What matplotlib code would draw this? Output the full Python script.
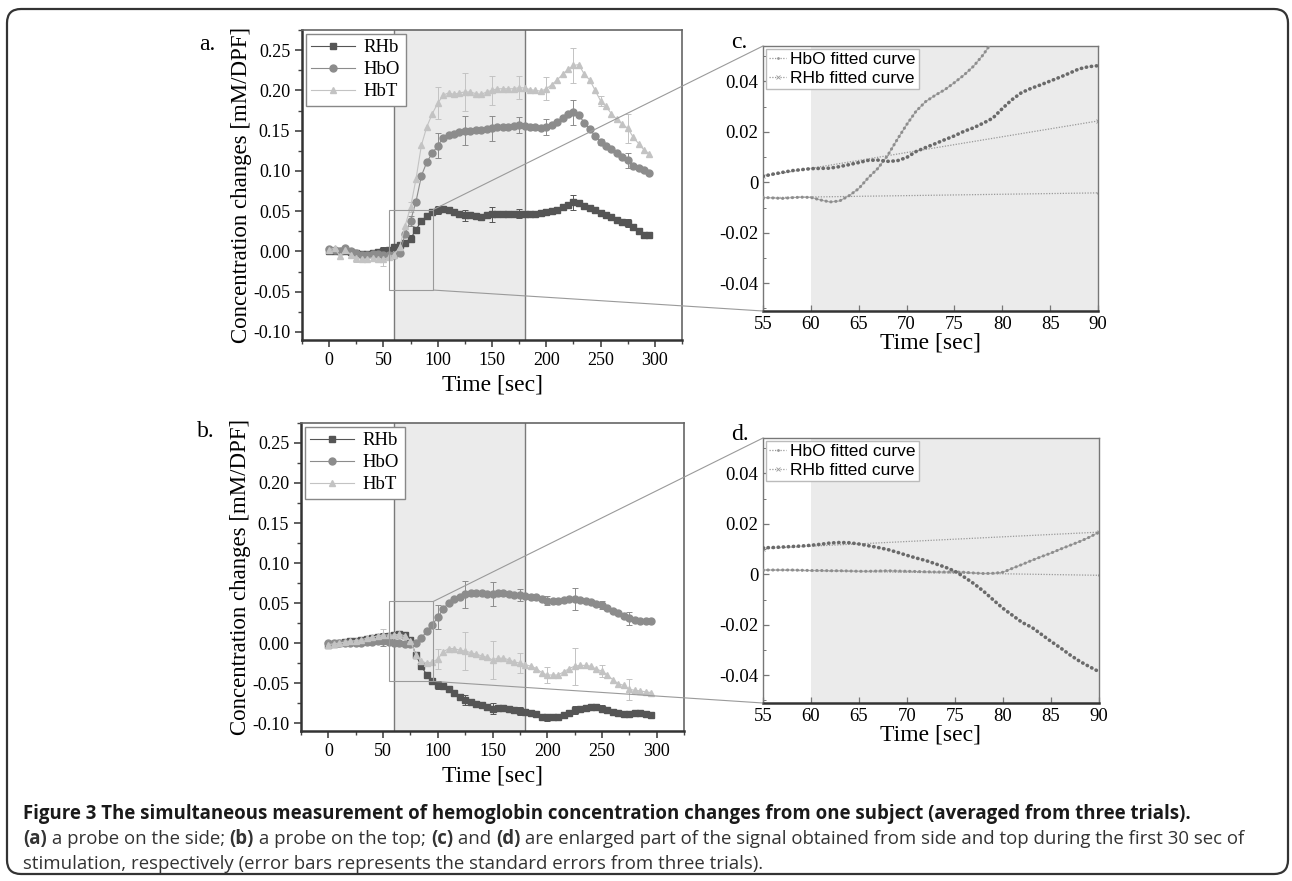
import matplotlib
matplotlib.use("Agg")
import matplotlib.pyplot as plt
from matplotlib.patches import ConnectionPatch, Rectangle, FancyBboxPatch
from matplotlib.ticker import MultipleLocator, FuncFormatter

plt.rcParams['font.family'] = ['Liberation Serif', 'DejaVu Serif']
plt.rcParams['axes.unicode_minus'] = False

# ---- data, panels a and b (5 s steps) ----
t = list(range(0, 300, 5))
t_err = list(range(0, 300, 25))

rhb_a = [0.0, 0.0, 0.0, 0.0, -0.001, -0.002, -0.003, -0.003, -0.002, -0.001,
         0.0, 0.002, 0.005, 0.008, 0.011, 0.016, 0.027, 0.038, 0.044, 0.049,
         0.052, 0.053, 0.051, 0.049, 0.047, 0.045, 0.045, 0.044, 0.043, 0.045,
         0.046, 0.047, 0.046, 0.046, 0.047, 0.047, 0.047, 0.046, 0.047, 0.048,
         0.049, 0.050, 0.052, 0.055, 0.058, 0.061, 0.060, 0.057, 0.054, 0.051,
         0.048, 0.045, 0.043, 0.039, 0.037, 0.035, 0.030, 0.025, 0.021, 0.021]
hbo_a = [0.003, 0.002, 0.0, 0.004, 0.001, -0.002, -0.005, -0.004, -0.003, -0.003,
         -0.004, -0.005, -0.005, -0.002, 0.022, 0.038, 0.062, 0.094, 0.111, 0.122,
         0.131, 0.141, 0.144, 0.146, 0.148, 0.150, 0.150, 0.151, 0.151, 0.152,
         0.153, 0.154, 0.155, 0.155, 0.156, 0.157, 0.156, 0.155, 0.154, 0.153,
         0.154, 0.157, 0.161, 0.166, 0.171, 0.173, 0.169, 0.160, 0.152, 0.143,
         0.136, 0.131, 0.127, 0.122, 0.117, 0.113, 0.106, 0.103, 0.101, 0.098]
hbt_a = [0.002, 0.004, -0.006, 0.002, -0.004, -0.008, -0.010, -0.009, -0.008, -0.009,
         -0.010, -0.007, -0.004, 0.006, 0.032, 0.055, 0.090, 0.132, 0.155, 0.171,
         0.184, 0.194, 0.197, 0.195, 0.197, 0.198, 0.198, 0.196, 0.195, 0.198,
         0.200, 0.202, 0.202, 0.202, 0.202, 0.2035, 0.203, 0.201, 0.200, 0.199,
         0.202, 0.207, 0.213, 0.220, 0.226, 0.231, 0.232, 0.220, 0.213, 0.200,
         0.187, 0.180, 0.171, 0.164, 0.158, 0.153, 0.142, 0.134, 0.126, 0.121]
rhb_a_err = [0.002, 0.003, 0.006, 0.004, 0.005, 0.007, 0.009, 0.006, 0.004, 0.009, 0.004, 0.005]
hbo_a_err = [0.003, 0.004, 0.006, 0.006, 0.0155, 0.018, 0.0155, 0.010, 0.010, 0.0155, 0.004, 0.009]
hbt_a_err = [0.003, 0.005, 0.008, 0.006, 0.020, 0.023, 0.018, 0.0145, 0.0145, 0.022, 0.006, 0.018]

rhb_b = [-0.002, -0.001, 0.0, 0.001, 0.002, 0.003, 0.004, 0.005, 0.006, 0.007,
         0.008, 0.009, 0.010, 0.011, 0.010, 0.004, -0.015, -0.029, -0.040, -0.047,
         -0.052, -0.054, -0.057, -0.062, -0.067, -0.071, -0.074, -0.076, -0.078, -0.080,
         -0.082, -0.081, -0.081, -0.082, -0.084, -0.085, -0.086, -0.087, -0.089, -0.092,
         -0.093, -0.093, -0.093, -0.090, -0.087, -0.084, -0.082, -0.081, -0.080, -0.080,
         -0.082, -0.084, -0.086, -0.088, -0.089, -0.089, -0.088, -0.088, -0.089, -0.090]
hbo_b = [0.0, 0.0, 0.0, 0.0, 0.0, 0.0, 0.0, 0.001, 0.001, 0.002,
         0.002, 0.001, 0.0, 0.0, -0.001, -0.001, 0.0, 0.006, 0.015, 0.023,
         0.032, 0.043, 0.050, 0.055, 0.058, 0.061, 0.062, 0.062, 0.062, 0.061,
         0.061, 0.062, 0.062, 0.061, 0.060, 0.060, 0.059, 0.058, 0.057, 0.055,
         0.053, 0.053, 0.053, 0.054, 0.055, 0.055, 0.054, 0.053, 0.051, 0.049,
         0.047, 0.044, 0.040, 0.037, 0.034, 0.031, 0.029, 0.028, 0.028, 0.028]
hbt_b = [-0.002, -0.001, 0.0, 0.001, 0.002, 0.003, 0.004, 0.006, 0.007, 0.009,
         0.010, 0.010, 0.010, 0.011, 0.009, 0.003, -0.015, -0.023, -0.025, -0.024,
         -0.020, -0.011, -0.007, -0.007, -0.009, -0.010, -0.012, -0.014, -0.016, -0.018,
         -0.021, -0.019, -0.019, -0.021, -0.024, -0.025, -0.027, -0.029, -0.032, -0.037,
         -0.040, -0.040, -0.040, -0.036, -0.032, -0.029, -0.028, -0.028, -0.029, -0.033,
         -0.035, -0.040, -0.046, -0.051, -0.053, -0.058, -0.059, -0.060, -0.061, -0.062]
rhb_b_err = [0.002, 0.002, 0.005, 0.004, 0.005, 0.006, 0.007, 0.005, 0.004, 0.005, 0.004, 0.004]
hbo_b_err = [0.002, 0.003, 0.006, 0.004, 0.015, 0.017, 0.015, 0.008, 0.006, 0.0136, 0.005, 0.008]
hbt_b_err = [0.002, 0.003, 0.008, 0.004, 0.012, 0.024, 0.024, 0.012, 0.010, 0.023, 0.008, 0.013]

# ---- data, zoomed panels c and d (1 s steps) ----
tz = list(range(55, 91))
rhb_c = [0.0024, 0.0032, 0.0039, 0.0046, 0.0050, 0.0054, 0.0055, 0.0056, 0.0062, 0.0070,
         0.0078, 0.0087, 0.0088, 0.0083, 0.0085, 0.0098, 0.0122, 0.0138, 0.0153, 0.0169,
         0.0184, 0.0202, 0.0216, 0.0234, 0.0254, 0.0292, 0.0327, 0.0355, 0.0372, 0.0386,
         0.0401, 0.0416, 0.0432, 0.0449, 0.0458, 0.0462]
tz_hbo_c = list(range(55, 81))
hbo_c = [-0.0060, -0.0062, -0.0064, -0.0061, -0.0059, -0.0060, -0.0070, -0.0078, -0.0074, -0.0053,
         -0.0025, 0.0018, 0.0055, 0.0105, 0.0168, 0.0228, 0.0282, 0.0320, 0.0345, 0.0367,
         0.0395, 0.0425, 0.0460, 0.0505, 0.0560, 0.0610]
rhb_d = [0.0105, 0.0106, 0.0108, 0.0110, 0.0112, 0.0115, 0.0119, 0.0124, 0.0126, 0.0125,
         0.0120, 0.0113, 0.0106, 0.0098, 0.0087, 0.0075, 0.0064, 0.0054, 0.0041, 0.0028,
         0.0012, -0.0012, -0.0038, -0.0068, -0.0102, -0.0135, -0.0163, -0.0191, -0.0210, -0.0238,
         -0.0266, -0.0292, -0.0320, -0.0345, -0.0366, -0.0386]
hbo_d = [0.0017, 0.0017, 0.0017, 0.0017, 0.0016, 0.0015, 0.0015, 0.0014, 0.0014, 0.0013,
         0.0012, 0.0012, 0.0013, 0.0014, 0.0013, 0.0012, 0.0011, 0.0010, 0.0009, 0.0009,
         0.0009, 0.0008, 0.0005, 0.0003, 0.0004, 0.0008, 0.0024, 0.0039, 0.0055, 0.0070,
         0.0084, 0.0100, 0.0115, 0.0130, 0.0147, 0.0167]
t_fit = [55, 90]
hbo_fit_c = [-0.0061, -0.0042]
rhb_fit_c = [0.0024, 0.0243]
hbo_fit_d = [0.0017, -0.0004]
rhb_fit_d = [0.0102, 0.0167]

C_RHB, C_HBO, C_HBT = '#555555', '#8c8c8c', '#c3c3c3'
SHADE = '#ebebeb'

W, H = 1292, 881
fig = plt.figure(figsize=(W / 100, H / 100), dpi=100)


def big_panel(rect, rhb, hbo, hbt, e_rhb, e_hbo, e_hbt, letter, ly):
    ax = fig.add_axes(rect)
    ax.axvspan(60, 180, color=SHADE, zorder=0, lw=0)
    ax.axvline(60, color='#7a7a7a', lw=1.0, zorder=1)
    ax.axvline(180, color='#7a7a7a', lw=1.0, zorder=1)
    series = [(rhb, e_rhb, C_RHB, 's', 4.2, 'RHb'),
              (hbo, e_hbo, C_HBO, 'o', 5.0, 'HbO'),
              (hbt, e_hbt, C_HBT, '^', 5.0, 'HbT')]
    for vals, err, col, mk, ms, lab in series:
        ax.plot(t, vals, color=col, marker=mk, ms=ms, lw=0.8, mec=col, label=lab, zorder=3)
        ax.errorbar(t_err, vals[::5], yerr=err, fmt='none', ecolor=col, elinewidth=0.7,
                    capsize=2.5, capthick=0.7, zorder=2)
    ax.set_xlim(-25, 325)
    ax.set_ylim(-0.11, 0.275)
    ax.xaxis.set_minor_locator(MultipleLocator(25))
    ax.yaxis.set_major_locator(MultipleLocator(0.05))
    ax.yaxis.set_minor_locator(MultipleLocator(0.025))
    ax.yaxis.set_major_formatter(FuncFormatter(lambda v, p: '%.2f' % v))
    ax.set_xticks([0, 50, 100, 150, 200, 250, 300])
    ax.tick_params(which='both', direction='out', labelsize=13, color='#444')
    ax.tick_params(which='major', length=5, width=1.2)
    ax.tick_params(which='minor', length=3, width=1.0)
    for s in ax.spines.values():
        s.set_color('#666')
        s.set_linewidth(1.2)
    ax.spines['left'].set_color('#333')
    ax.spines['left'].set_linewidth(1.8)
    ax.spines['bottom'].set_color('#333')
    ax.spines['bottom'].set_linewidth(1.8)
    ax.set_xlabel('Time [sec]', fontsize=17, labelpad=4)
    ax.set_ylabel('Concentration changes [mM/DPF]', fontsize=16.5, labelpad=1)
    leg = ax.legend(loc='upper left', fontsize=13.5, handlelength=2.3, borderaxespad=0.2,
                    fancybox=False, edgecolor='#888', framealpha=1, labelspacing=0.25,
                    handletextpad=0.5, borderpad=0.3)
    leg.get_frame().set_linewidth(1.0)
    ax.add_patch(Rectangle((55, -0.048), 41, 0.1, fill=False, ec='#9a9a9a', lw=0.8, zorder=4))
    ax.text(-0.272, ly, letter, transform=ax.transAxes, fontsize=17, ha='left', va='center')
    return ax


def zoom_panel(rect, rhb, hbo_t, hbo, hbo_fit, rhb_fit, letter):
    ax = fig.add_axes(rect)
    ax.axvspan(60, 90, color=SHADE, zorder=0, lw=0)
    ax.plot(t_fit, hbo_fit, color='#999999', lw=0.9, ls=(0, (1, 1.2)), marker='.', ms=2,
            label='HbO fitted curve', zorder=2)
    ax.plot(t_fit, rhb_fit, color='#999999', lw=0.9, ls=(0, (1, 1.2)), marker='x', ms=3,
            mew=0.6, label='RHb fitted curve', zorder=2)
    ax.plot(hbo_t, hbo, color='#aaaaaa', lw=0.8, zorder=3)
    ax.plot(hbo_t, hbo, color='#8e8e8e', lw=2.2, ls=(0, (0.1, 1.5)), dash_capstyle='round', zorder=3)
    ax.plot(tz, rhb, color='#6a6a6a', lw=2.6, ls=(0, (0.1, 1.3)), dash_capstyle='round', zorder=4)
    ax.set_xlim(55, 90)
    ax.set_ylim(-0.051, 0.054)
    ax.set_xticks([55, 60, 65, 70, 75, 80, 85, 90])
    ax.set_yticks([-0.04, -0.02, 0, 0.02, 0.04])
    ax.set_yticklabels(['-0.04', '-0.02', '0', '0.02', '0.04'])
    ax.yaxis.set_minor_locator(MultipleLocator(0.01))
    ax.tick_params(which='both', direction='in', labelsize=13.5, color='#777')
    ax.tick_params(which='major', length=4, width=0.9)
    ax.tick_params(which='minor', length=2.5, width=0.7)
    for s in ax.spines.values():
        s.set_color('#777')
        s.set_linewidth(1.0)
    ax.spines['bottom'].set_color('#333')
    ax.spines['bottom'].set_linewidth(1.8)
    ax.set_xlabel('Time [sec]', fontsize=17, labelpad=0)
    ax.legend(loc='upper left', prop={'family': ['Liberation Sans', 'DejaVu Sans'], 'size': 12.5},
              handlelength=1.0, borderaxespad=0.15, fancybox=False, edgecolor='#bbb',
              framealpha=1, labelspacing=0.2, handletextpad=0.2, borderpad=0.2)
    ax.text(-0.095, 1.012, letter, transform=ax.transAxes, fontsize=17, ha='left', va='center')
    return ax


ax_a = big_panel([302 / W, 1 - 340 / H, 380 / W, 310 / H], rhb_a, hbo_a, hbt_a,
                 rhb_a_err, hbo_a_err, hbt_a_err, 'a.', 0.952)
ax_b = big_panel([301 / W, 1 - 731 / H, 383 / W, 308 / H], rhb_b, hbo_b, hbt_b,
                 rhb_b_err, hbo_b_err, hbt_b_err, 'b.', 0.971)
ax_c = zoom_panel([763 / W, 1 - 311 / H, 335 / W, 265 / H], rhb_c, tz_hbo_c, hbo_c,
                  hbo_fit_c, rhb_fit_c, 'c.')
ax_d = zoom_panel([763 / W, 1 - 703 / H, 336 / W, 265 / H], rhb_d, tz, hbo_d,
                  hbo_fit_d, rhb_fit_d, 'd.')

# connector lines from the small boxes to the zoomed panels
for big, small in [(ax_a, ax_c), (ax_b, ax_d)]:
    for yb, ys in [(0.052, 1.0), (-0.048, 0.0)]:
        con = ConnectionPatch(xyA=(96, yb), coordsA=big.transData, xyB=(0, ys),
                              coordsB=small.transAxes, color='#9a9a9a', lw=0.8)
        fig.add_artist(con)

# outer frame
frame = FancyBboxPatch((7, 7), 1281, 865, boxstyle='round,pad=0,rounding_size=14',
                       transform=None, fill=False, ec='#333', lw=1.6)
fig.patches.append(frame)

# caption
r = fig.canvas.get_renderer()
CAP_FONT = ['Open Sans', 'DejaVu Sans']


def text_w(s, size, bold):
    tt = fig.text(0, 0, s + '|', fontsize=size, family=CAP_FONT,
                  fontweight='bold' if bold else 'normal')
    w1 = tt.get_window_extent(r).width
    tt.set_text('|')
    w2 = tt.get_window_extent(r).width
    tt.remove()
    return w1 - w2


def write_line(pieces, x0, y, target, color):
    total = sum(text_w(s, 10, b) for s, b in pieces)
    size = 10 * target / total
    x = x0
    for s, b in pieces:
        fig.text(x / W, 1 - y / H, s, fontsize=size, family=CAP_FONT,
                 fontweight='bold' if b else 'normal', color=color, va='center')
        x += text_w(s, size, b)
    return size


line1 = [('Figure 3 The simultaneous measurement of hemoglobin concentration changes '
          'from one subject (averaged from three trials).', True)]
line2 = [('(a)', True), (' a probe on the side; ', False), ('(b)', True),
         (' a probe on the top; ', False), ('(c)', True), (' and ', False), ('(d)', True),
         (' are enlarged part of the signal obtained from side and top during the first 30 sec of',
          False)]
write_line(line1, 23, 814, 1170, '#1a1a1a')
s2 = write_line(line2, 23, 839, 1225, '#333333')
fig.text(23 / W, 1 - 864 / H, 'stimulation, respectively (error bars represents the standard '
         'errors from three trials).', fontsize=s2, family=CAP_FONT, color='#333333', va='center')

fig.savefig('out.png', dpi=100)
